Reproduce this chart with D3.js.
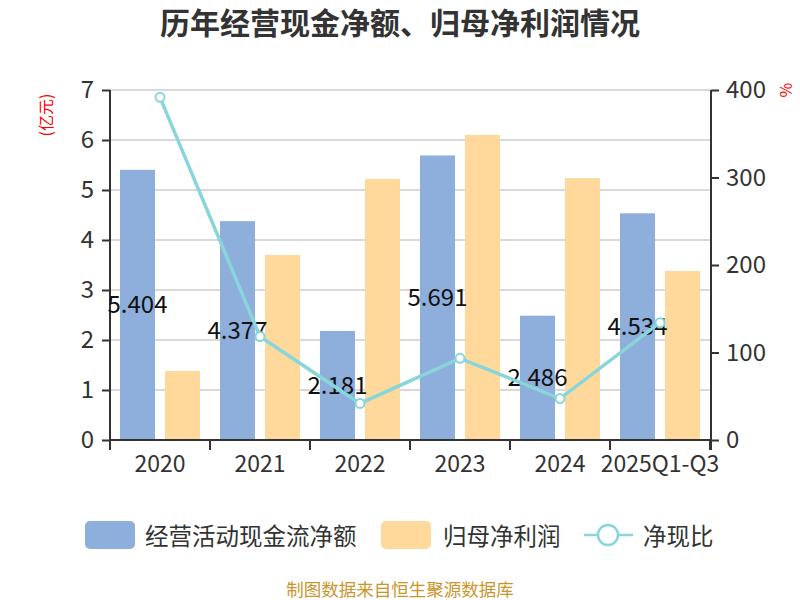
<!DOCTYPE html>
<html>
<head>
<meta charset="utf-8">
<script src="https://cdn.jsdelivr.net/npm/d3@7"></script>
<style>
  body { margin: 0; background: #fff; }
  svg { font-family: "Noto Sans CJK SC", "Noto Sans", sans-serif; }
</style>
</head>
<body>
<svg id="chart" width="800" height="600"></svg>
<script>
const years = ['2020', '2021', '2022', '2023', '2024', '2025Q1-Q3'];
const cashFlow = [5.404, 4.377, 2.181, 5.691, 2.486, 4.534];
const netProfit = [1.38, 3.70, 5.22, 6.10, 5.24, 3.38];
const ratio = [391.6, 118.3, 41.8, 93.3, 47.4, 134.1];
const leftTicks = [0, 1, 2, 3, 4, 5, 6, 7];
const rightTicks = [0, 100, 200, 300, 400];

const blue = '#8eaedb', orange = '#fed99b', teal = '#88d6da';
const margin = {left: 110, right: 90, top: 90, bottom: 160};
const width = 800, height = 600;
const svg = d3.select('#chart');

const x = d3.scaleBand().domain(years).range([margin.left, width - margin.right]);
const yL = d3.scaleLinear().domain([0, 7]).range([height - margin.bottom, margin.top]);
const yR = d3.scaleLinear().domain([0, 400]).range([height - margin.bottom, margin.top]);

// title
svg.append('text').attr('x', 400).attr('y', 34).attr('text-anchor', 'middle')
  .attr('font-size', 30).attr('font-weight', 'bold').attr('fill', '#333')
  .text('历年经营现金净额、归母净利润情况');

// gridlines
svg.append('g').selectAll('line').data(leftTicks.slice(1)).enter().append('line')
  .attr('x1', margin.left).attr('x2', width - margin.right)
  .attr('y1', d => yL(d)).attr('y2', d => yL(d))
  .attr('stroke', '#ccc').attr('stroke-width', 1.5);

// bars
const bw = 35;
svg.append('g').selectAll('rect').data(cashFlow).enter().append('rect')
  .attr('x', (d, i) => x(years[i]) + 10).attr('width', bw)
  .attr('y', d => yL(d)).attr('height', d => yL(0) - yL(d)).attr('fill', blue);
svg.append('g').selectAll('rect').data(netProfit).enter().append('rect')
  .attr('x', (d, i) => x(years[i]) + 55).attr('width', bw)
  .attr('y', d => yL(d)).attr('height', d => yL(0) - yL(d)).attr('fill', orange);

// axes
const axL = svg.append('g').attr('transform', `translate(${margin.left},0)`)
  .call(d3.axisLeft(yL).tickValues(leftTicks).tickFormat(d3.format('d')).tickSize(8).tickPadding(8));
const axR = svg.append('g').attr('transform', `translate(${width - margin.right + 1},0)`)
  .call(d3.axisRight(yR).tickValues(rightTicks).tickFormat(d3.format('d')).tickSize(8).tickPadding(7));
const axB = svg.append('g').attr('transform', `translate(0,${height - margin.bottom})`)
  .call(d3.axisBottom(x).tickSize(0).tickPadding(16));
[axL, axR, axB].forEach(a => {
  a.select('.domain').attr('stroke', '#333').attr('stroke-width', 2);
  a.selectAll('.tick line').attr('stroke', '#333').attr('stroke-width', 2);
  a.selectAll('.tick text').attr('fill', '#333').attr('font-size', 24)
    .attr('font-family', '"Noto Sans CJK SC", sans-serif');
});
axB.select('.domain').attr('d', `M${margin.left},0H${width - margin.right}`);
axL.select('.domain').attr('d', 'M0,' + (yL(0) + 10) + 'V' + yL(7));
axR.select('.domain').attr('d', 'M0,' + (yL(0) + 10) + 'V' + yL(7));
axB.selectAll('.tick text').attr('font-size', 23);
svg.append('g').selectAll('line').data(d3.range(years.length + 1)).enter().append('line')
  .attr('x1', d => margin.left + d * x.step()).attr('x2', d => margin.left + d * x.step())
  .attr('y1', yL(0)).attr('y2', yL(0) + 10).attr('stroke', '#333').attr('stroke-width', 2);

// axis units
svg.append('text').attr('transform', 'translate(48,115) rotate(-90)')
  .attr('text-anchor', 'middle').attr('dominant-baseline', 'middle')
  .attr('font-size', 16).attr('fill', 'red').text('(亿元)');
svg.append('text').attr('transform', 'translate(788,90) rotate(-90)')
  .attr('text-anchor', 'middle').attr('dominant-baseline', 'middle')
  .attr('font-size', 16).attr('fill', 'red').text('%');

// labels (under the line, like the original)
svg.append('g').selectAll('text').data(cashFlow).enter().append('text')
  .attr('x', (d, i) => x(years[i]) + 10 + bw / 2)
  .attr('y', d => (yL(d) + yL(0)) / 2 - 2)
  .attr('text-anchor', 'middle').attr('dominant-baseline', 'central')
  .attr('font-size', 24).attr('fill', '#111').text(d => d.toFixed(3));

// line
const line = d3.line().x((d, i) => x(years[i]) + x.bandwidth() / 2).y(d => yR(d));
svg.append('path').datum(ratio).attr('d', line).attr('fill', 'none')
  .attr('stroke', teal).attr('stroke-width', 3.5);
svg.append('g').selectAll('circle').data(ratio).enter().append('circle')
  .attr('cx', (d, i) => x(years[i]) + x.bandwidth() / 2).attr('cy', d => yR(d))
  .attr('r', 4.5).attr('fill', '#fff').attr('stroke', teal).attr('stroke-width', 2);

// legend
const lg = svg.append('g');
lg.append('rect').attr('x', 85).attr('y', 521).attr('width', 50).attr('height', 28).attr('rx', 5).attr('fill', blue);
lg.append('text').attr('x', 145).attr('y', 535).attr('dominant-baseline', 'central')
  .attr('font-size', 23.5).attr('fill', '#333').text('经营活动现金流净额');
lg.append('rect').attr('x', 381).attr('y', 521).attr('width', 50).attr('height', 28).attr('rx', 5).attr('fill', orange);
lg.append('text').attr('x', 443).attr('y', 535).attr('dominant-baseline', 'central')
  .attr('font-size', 23.5).attr('fill', '#333').text('归母净利润');
lg.append('line').attr('x1', 584).attr('x2', 633).attr('y1', 535).attr('y2', 535)
  .attr('stroke', teal).attr('stroke-width', 2.5);
lg.append('circle').attr('cx', 608).attr('cy', 535).attr('r', 10).attr('fill', '#fff')
  .attr('stroke', teal).attr('stroke-width', 2.5);
lg.append('text').attr('x', 643).attr('y', 535).attr('dominant-baseline', 'central')
  .attr('font-size', 23.5).attr('fill', '#333').text('净现比');

// source
svg.append('text').attr('x', 400).attr('y', 588).attr('text-anchor', 'middle')
  .attr('dominant-baseline', 'central').attr('font-size', 17.5).attr('fill', '#c9962c')
  .text('制图数据来自恒生聚源数据库');
</script>
</body>
</html>
